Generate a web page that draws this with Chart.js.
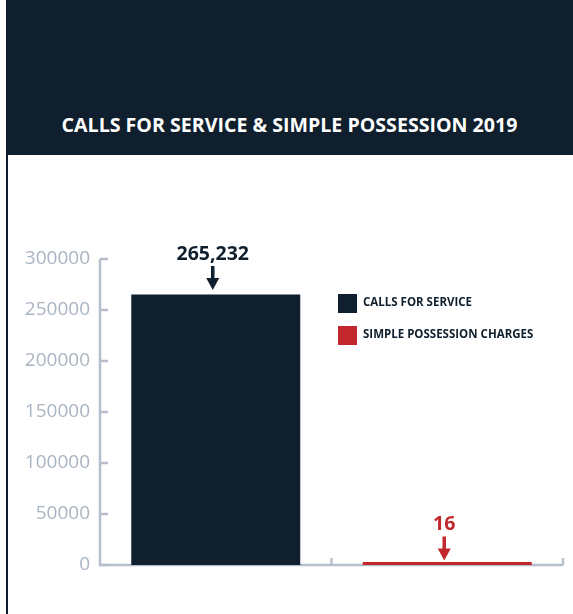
<!DOCTYPE html>
<html>
<head>
<meta charset="utf-8">
<script src="https://cdn.jsdelivr.net/npm/chart.js@4/dist/chart.umd.min.js"></script>
<style>
  body { margin: 0; background: #ffffff; font-family: "Open Sans", sans-serif; }
  #pagina { position: relative; width: 573px; height: 614px; overflow: hidden; }
  #cabecalho { position: absolute; left: 6px; top: 0; width: 567px; height: 155px; background: #0f1f2d; }
  #titulo { position: absolute; left: 6px; width: 567px; top: 111px; text-align: center; color: #ffffff;
            font-weight: 700; font-size: 19.6px; line-height: 28px; }
  #borda { position: absolute; left: 6px; top: 155px; width: 2px; height: 459px; background: #0f1f2d; }
  #grafico { position: absolute; left: 0; top: 0; }
</style>
</head>
<body>
<div id="pagina">
  <div id="cabecalho"></div>
  <div id="titulo">CALLS FOR SERVICE &amp; SIMPLE POSSESSION 2019</div>
  <div id="borda"></div>
  <canvas id="grafico" width="573" height="614"></canvas>
</div>
<script>
var categorias = ['CALLS FOR SERVICE', 'SIMPLE POSSESSION CHARGES']
var valores = [265232, 16]
var rotulos = ['265,232', '16']
var cores = ['#0f1f2d', '#c1272d']
var ticksY = [0, 50000, 100000, 150000, 200000, 250000, 300000]

var corEixo = '#b5bfcc'

// desenha os eixos com os tracos para dentro, como no original
var eixos = {
    id: 'eixos',
    beforeDatasetsDraw: function (chart) {
        var ctx = chart.ctx
        var area = chart.chartArea
        var y = chart.scales.y
        var x = chart.scales.x
        ctx.save()
        ctx.strokeStyle = corEixo
        ctx.lineWidth = 2.5
        ctx.beginPath()
        ctx.moveTo(area.left, y.getPixelForValue(ticksY[ticksY.length - 1]))
        ctx.lineTo(area.left, y.getPixelForValue(0))
        ctx.lineTo(area.right, y.getPixelForValue(0))
        ctx.stroke()
        ticksY.forEach(function (v) {
            var py = y.getPixelForValue(v)
            ctx.beginPath()
            ctx.moveTo(area.left, py)
            ctx.lineTo(area.left + 8, py)
            ctx.stroke()
        })
        var meio = (x.getPixelForValue(0) + x.getPixelForValue(1)) / 2
        var base = y.getPixelForValue(0)
        ;[meio, area.right].forEach(function (px) {
            ctx.beginPath()
            ctx.moveTo(px, base)
            ctx.lineTo(px, base - 7)
            ctx.stroke()
        })
        ctx.restore()
    }
}

// rotulos com seta acima de cada barra + legenda
var anotacoes = {
    id: 'anotacoes',
    afterDatasetsDraw: function (chart) {
        var ctx = chart.ctx
        var area = chart.chartArea
        var meta = chart.getDatasetMeta(0)
        var y = chart.scales.y
        ctx.save()
        meta.data.forEach(function (barra, i) {
            var ponta = y.getPixelForValue(valores[i]) - 4.5
            var cx = barra.x - 3
            ctx.fillStyle = cores[i]
            ctx.strokeStyle = cores[i]
            ctx.font = '700 19.5px "Open Sans"'
            ctx.textAlign = 'center'
            ctx.textBaseline = 'middle'
            ctx.fillText(rotulos[i], cx, ponta - 36)
            ctx.lineWidth = 3.5
            ctx.beginPath()
            ctx.moveTo(cx, ponta - 24)
            ctx.lineTo(cx, ponta - 11)
            ctx.stroke()
            ctx.beginPath()
            ctx.moveTo(cx - 6.5, ponta - 12)
            ctx.lineTo(cx + 6.5, ponta - 12)
            ctx.lineTo(cx, ponta)
            ctx.closePath()
            ctx.fill()
        })
        categorias.forEach(function (nome, i) {
            var ly = area.top + 35 + i * 32
            ctx.fillStyle = cores[i]
            ctx.fillRect(area.left + 238, ly, 19, 19)
            ctx.fillStyle = '#0f1f2d'
            ctx.font = '700 11.5px "Open Sans"'
            ctx.textAlign = 'left'
            ctx.textBaseline = 'middle'
            ctx.fillText(nome, area.left + 263, ly + 9)
        })
        ctx.restore()
    }
}

var canvas = document.getElementById('grafico')

var grafico = new Chart(canvas, {
    type: 'bar',
    data: {
        labels: categorias,
        datasets: [{
            data: valores,
            backgroundColor: cores,
            borderWidth: 0,
            minBarLength: 3,
            categoryPercentage: 1,
            barPercentage: 0.73
        }]
    },
    options: {
        responsive: false,
        animation: false,
        layout: {
            padding: { left: 0, right: 10, top: 259, bottom: 49 }
        },
        plugins: {
            legend: { display: false },
            tooltip: { enabled: false }
        },
        scales: {
            x: {
                grid: { display: false, drawTicks: false },
                border: { display: false },
                ticks: { display: false }
            },
            y: {
                min: 0,
                max: 300000,
                afterFit: function (escala) { escala.width = 100 },
                afterBuildTicks: function (escala) {
                    escala.ticks = ticksY.map(function (v) { return { value: v } })
                },
                grid: { display: false, drawTicks: false },
                border: { display: false },
                ticks: {
                    padding: 10,
                    color: '#aab4c2',
                    font: { family: 'Open Sans', size: 19, weight: '400' },
                    callback: function (v) { return String(v) }
                }
            }
        }
    },
    plugins: [eixos, anotacoes]
})
</script>
</body>
</html>
